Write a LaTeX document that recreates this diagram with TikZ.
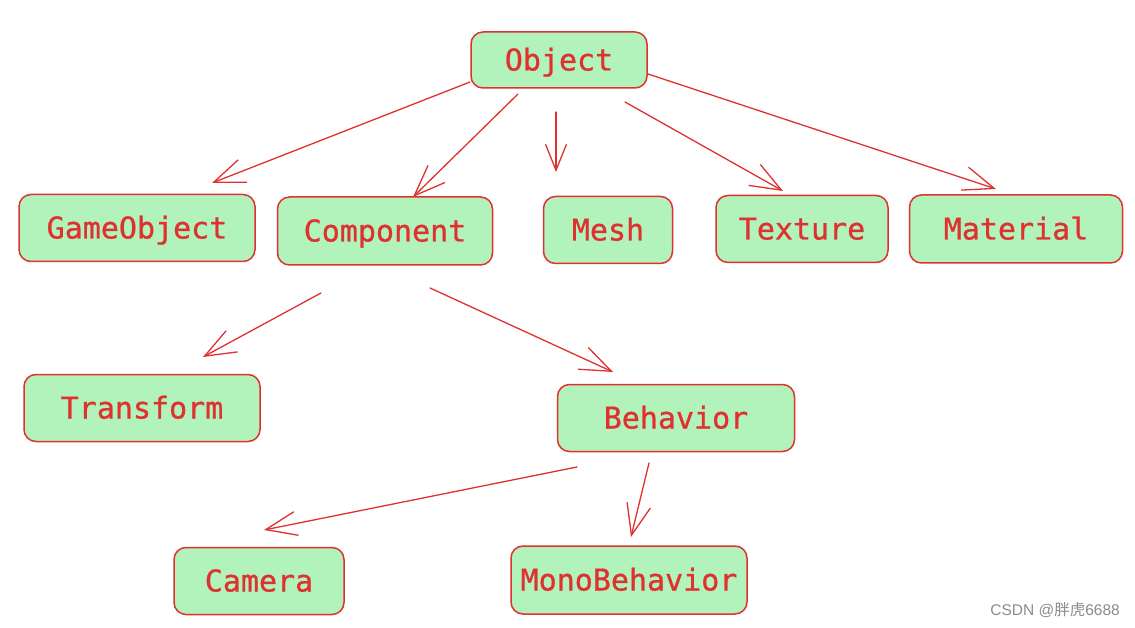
\documentclass[tikz,border=0pt]{standalone}
\usepackage{fontspec}
\setmonofont[FakeBold=0.8]{DejaVu Sans Mono}
\newfontfamily\cjk{Noto Sans CJK SC}
\newfontfamily\wmlatin{Liberation Sans}
\usetikzlibrary{arrows.meta}
\definecolor{exred}{HTML}{E03131}
\definecolor{exgreen}{HTML}{B2F2BB}
\begin{document}
\begin{tikzpicture}[x=1pt,y=-1pt,
  box/.style={draw=exred, fill=exgreen, rounded corners=12pt, line width=1.5pt, text=exred,
    font=\ttfamily\fontsize{30}{36}\selectfont, inner sep=0pt,
    text height=24pt, text depth=3pt},
  arr/.style={draw=exred, line width=1.3pt, line cap=round,
    -{Straight Barb[length=31pt,width=24pt,line width=1.3pt]}},
  shortarr/.style={draw=exred, line width=1.3pt, line cap=round,
    -{Straight Barb[length=26pt,width=21pt,line width=1.3pt]}}]
\useasboundingbox[fill=white] (0,0) rectangle (1135,628);
% nodes
\node[box, minimum width=176pt, minimum height=56pt] (obj) at (559,60) {Object};
\node[box, minimum width=236pt, minimum height=67pt] (go) at (137,228) {GameObject};
\node[box, minimum width=215pt, minimum height=68pt] (comp) at (385,231) {Component};
\node[box, minimum width=129pt, minimum height=67pt] (mesh) at (608,230) {Mesh};
\node[box, minimum width=172pt, minimum height=67pt] (tex) at (802,229) {Texture};
\node[box, minimum width=213pt, minimum height=68pt] (mat) at (1016,229) {Material};
\node[box, minimum width=236pt, minimum height=67pt] (tr) at (142,408) {Transform};
\node[box, minimum width=237pt, minimum height=67pt] (beh) at (676,418) {Behavior};
\node[box, minimum width=170pt, minimum height=67pt] (cam) at (259,581) {Camera};
\node[box, minimum width=236pt, minimum height=68pt] (mono) at (629,580) {MonoBehavior};
% connector end points
\coordinate (a1) at (470,82);  \coordinate (b1) at (212,183);
\coordinate (a2) at (518,94);  \coordinate (b2) at (413,197);
\coordinate (a3) at (556,112); \coordinate (b3) at (556,172);
\coordinate (a4) at (625,102); \coordinate (b4) at (783,191);
\coordinate (a5) at (648,74);  \coordinate (b5) at (996,189);
\coordinate (a6) at (321,293); \coordinate (b6) at (203,357);
\coordinate (a7) at (430,288); \coordinate (b7) at (613,372);
\coordinate (a8) at (577,467); \coordinate (b8) at (264,530);
\coordinate (a9) at (649,463); \coordinate (b9) at (631,537);
\draw[arr] (a1) -- (b1);
\draw[arr] (a2) -- (b2);
\draw[shortarr] (a3) -- (b3);
\draw[arr] (a4) -- (b4);
\draw[arr] (a5) -- (b5);
\draw[arr] (a6) -- (b6);
\draw[arr] (a7) -- (b7);
\draw[arr] (a8) -- (b8);
\draw[arr] (a9) -- (b9);
% watermark
\node[anchor=east, text=black!45, font=\fontsize{15.5}{18}\selectfont, inner sep=0pt] (wm) at (1120,610) {\wmlatin CSDN @\cjk 胖虎\wmlatin 6688};
\end{tikzpicture}
\end{document}
